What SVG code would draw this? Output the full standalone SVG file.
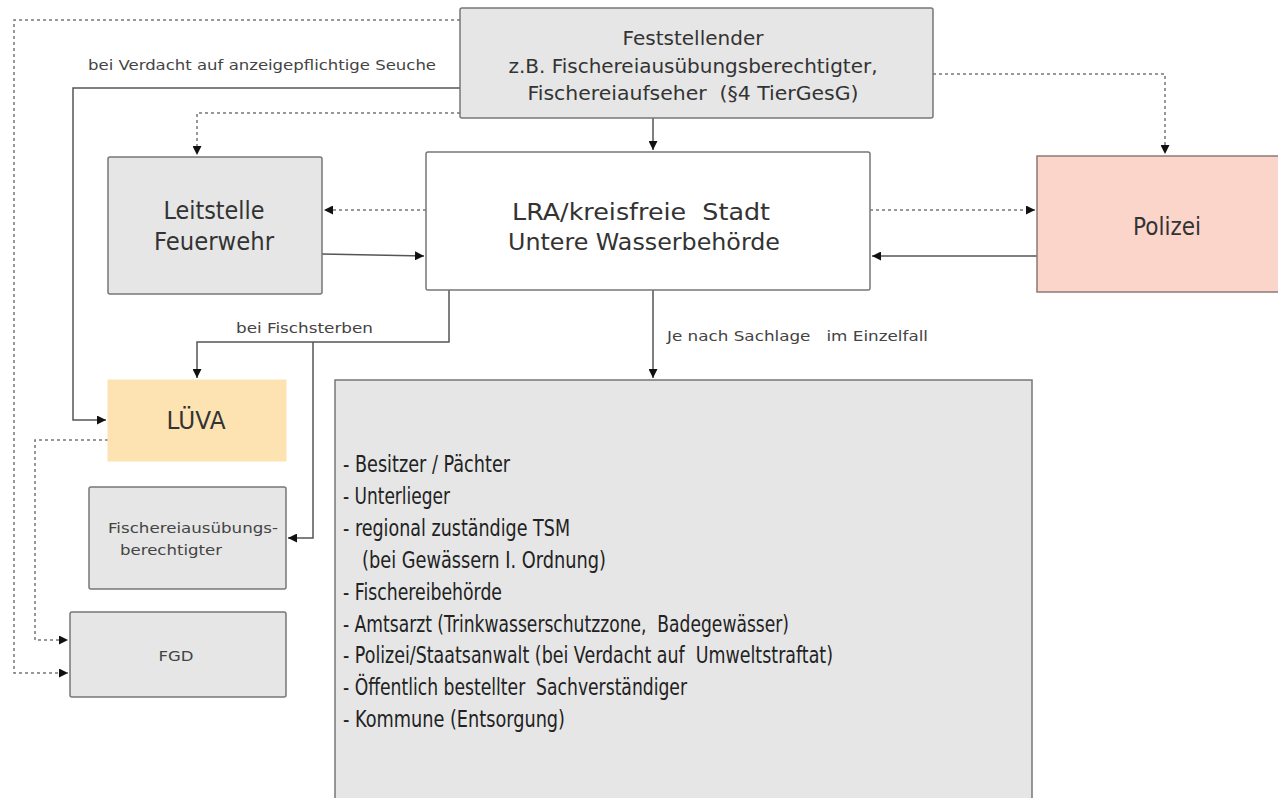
<svg xmlns="http://www.w3.org/2000/svg" width="1278" height="798" viewBox="0 0 1278 798">
<defs>
<marker id="ah" viewBox="0 0 10 10" refX="10" refY="5" markerWidth="9" markerHeight="9" markerUnits="userSpaceOnUse" orient="auto"><path d="M0,0 L10,5 L0,10 z" fill="#111"/></marker>
<style>
.box{fill:#e6e6e6;stroke:#777;stroke-width:1.5}
.wbox{fill:#fff;stroke:#777;stroke-width:1.5}
.t{font-family:"DejaVu Sans","Liberation Sans",sans-serif;fill:#333}
.lbl{font-size:14.5px;fill:#444}
.solid{fill:none;stroke:#555;stroke-width:1.5}
.dot{fill:none;stroke:#777;stroke-width:1.5;stroke-dasharray:3,3}
</style>
</defs>
<rect width="1278" height="798" fill="#fff"/>
<g id="connectors">
<path class="dot" d="M460,20 H14 V673 H68" marker-end="url(#ah)"/>
<path class="dot" d="M108,440 H35 V640 H68" marker-end="url(#ah)"/>
<path class="solid" d="M460,88 H73 V420 H106" marker-end="url(#ah)"/>
<path class="dot" d="M460,113 H197 V155" marker-end="url(#ah)"/>
<path class="dot" d="M933,74 H1165 V154" marker-end="url(#ah)"/>
<path class="solid" d="M653,118 V150" marker-end="url(#ah)"/>
<path class="dot" d="M426,210 H324" marker-end="url(#ah)"/>
<path class="solid" d="M322,254 L424,256" marker-end="url(#ah)"/>
<path class="dot" d="M870,210 H1035" marker-end="url(#ah)"/>
<path class="solid" d="M1037,256 H872" marker-end="url(#ah)"/>
<path class="solid" d="M449,290 V342 H197 V378" marker-end="url(#ah)"/>
<path class="solid" d="M313,342 V538 H288" marker-end="url(#ah)"/>
<path class="solid" d="M653,290 V378" marker-end="url(#ah)"/>
<text class="t lbl" x="88" y="70" textLength="348" lengthAdjust="spacingAndGlyphs">bei Verdacht auf anzeigepflichtige Seuche</text>
<text class="t lbl" x="236" y="333" textLength="137" lengthAdjust="spacingAndGlyphs">bei Fischsterben</text>
<text class="t lbl" x="667" y="341" textLength="261" lengthAdjust="spacingAndGlyphs" xml:space="preserve">Je nach Sachlage   im Einzelfall</text>
</g>
<g id="feststellender">
<rect class="box" x="460" y="8" width="473" height="110" rx="2"/>
<text class="t" font-size="19" x="693" y="45" text-anchor="middle" textLength="141" lengthAdjust="spacingAndGlyphs">Feststellender</text>
<text class="t" font-size="19" x="693" y="73" text-anchor="middle" textLength="369" lengthAdjust="spacingAndGlyphs">z.B. Fischereiausübungsberechtigter,</text>
<text class="t" font-size="19" x="693" y="100" text-anchor="middle" textLength="331" lengthAdjust="spacingAndGlyphs" xml:space="preserve">Fischereiaufseher  (§4 TierGesG)</text>
</g>
<g id="leitstelle">
<rect class="box" x="108" y="157" width="214" height="137" rx="2"/>
<text class="t" font-size="24" x="214" y="219" text-anchor="middle" textLength="101" lengthAdjust="spacingAndGlyphs">Leitstelle</text>
<text class="t" font-size="24" x="214" y="250" text-anchor="middle" textLength="120" lengthAdjust="spacingAndGlyphs">Feuerwehr</text>
</g>
<g id="lra">
<rect class="wbox" x="426" y="152" width="444" height="138" rx="2"/>
<text class="t" font-size="23" x="641" y="220" text-anchor="middle" textLength="258" lengthAdjust="spacingAndGlyphs" xml:space="preserve">LRA/kreisfreie  Stadt</text>
<text class="t" font-size="23" x="644" y="250" text-anchor="middle" textLength="272" lengthAdjust="spacingAndGlyphs">Untere Wasserbehörde</text>
</g>
<g id="polizei">
<rect x="1037" y="156" width="245" height="136" fill="#fbd5ca" stroke="#8a7a76" stroke-width="1.5"/>
<text class="t" font-size="24" x="1167" y="235" text-anchor="middle" textLength="68" lengthAdjust="spacingAndGlyphs">Polizei</text>
</g>
<g id="luva">
<rect x="108" y="380" width="178" height="81" fill="#fde3b2" stroke="#fde3b2" stroke-width="1"/>
<text class="t" font-size="24" x="196" y="429" text-anchor="middle" textLength="59" lengthAdjust="spacingAndGlyphs">LÜVA</text>
</g>
<g id="fischereiausuebungsberechtigter">
<rect class="box" x="89" y="487" width="197" height="102" rx="2"/>
<text class="t lbl" x="108" y="533" textLength="170" lengthAdjust="spacingAndGlyphs">Fischereiausübungs-</text>
<text class="t lbl" x="120" y="555" textLength="102" lengthAdjust="spacingAndGlyphs">berechtigter</text>
</g>
<g id="fgd">
<rect class="box" x="70" y="612" width="216" height="85" rx="2"/>
<text class="t lbl" x="176" y="661" text-anchor="middle" textLength="35" lengthAdjust="spacingAndGlyphs">FGD</text>
</g>
<g id="beteiligte">
<rect class="box" x="335" y="380" width="697" height="425"/>
<g class="t" font-size="23" fill="#222" style="fill:#222">
<text x="343" y="472" textLength="167" lengthAdjust="spacingAndGlyphs">- Besitzer / Pächter</text>
<text x="343" y="504" textLength="107" lengthAdjust="spacingAndGlyphs">- Unterlieger</text>
<text x="343" y="536" textLength="227" lengthAdjust="spacingAndGlyphs">- regional zuständige TSM</text>
<text x="362" y="568" textLength="244" lengthAdjust="spacingAndGlyphs">(bei Gewässern I. Ordnung)</text>
<text x="343" y="600" textLength="159" lengthAdjust="spacingAndGlyphs">- Fischereibehörde</text>
<text x="343" y="632" textLength="446" lengthAdjust="spacingAndGlyphs" xml:space="preserve">- Amtsarzt (Trinkwasserschutzzone,  Badegewässer)</text>
<text x="343" y="663" textLength="490" lengthAdjust="spacingAndGlyphs" xml:space="preserve">- Polizei/Staatsanwalt (bei Verdacht auf  Umweltstraftat)</text>
<text x="343" y="695" textLength="344" lengthAdjust="spacingAndGlyphs" xml:space="preserve">- Öffentlich bestellter  Sachverständiger</text>
<text x="343" y="727" textLength="222" lengthAdjust="spacingAndGlyphs">- Kommune (Entsorgung)</text>
</g>
</g>
</svg>
